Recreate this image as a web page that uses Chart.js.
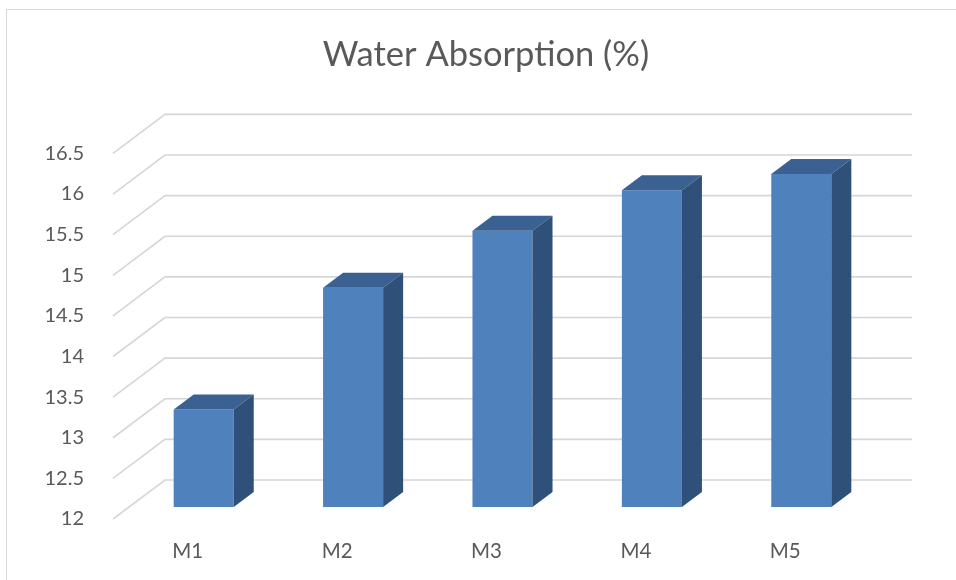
<!DOCTYPE html>
<html>
<head>
<meta charset="utf-8">
<script src="https://cdn.jsdelivr.net/npm/chart.js@4.4.1/dist/chart.umd.min.js"></script>
<style>
  html, body { margin: 0; padding: 0; background: #ffffff; }
  #wrap { position: relative; width: 956px; height: 580px; overflow: hidden; }
  #frame { position: absolute; left: 6px; top: 9px; width: 1200px; height: 900px;
           border-left: 1.5px solid #d9d9d9; border-top: 1.5px solid #d9d9d9; box-sizing: border-box; }
  canvas { position: absolute; left: 0; top: 0; }
</style>
</head>
<body>
<div id="wrap">
  <div id="frame"></div>
  <canvas id="c" width="956" height="580"></canvas>
</div>
<script>
// ---- data ----
const chartTitle = 'Water Absorption (%)';
const categories = ['M1', 'M2', 'M3', 'M4', 'M5'];
const waterAbsorption = [13.2, 14.7, 15.4, 15.9, 16.1];
const yTickValues = [12, 12.5, 13, 13.5, 14, 14.5, 15, 15.5, 16, 16.5];

// ---- 3D styling (pixel offsets of the perspective) ----
const WALL_DX = 52, WALL_DY = -39;   // front plane -> back wall
const BAR_DX = 16, BAR_DY = -12;     // front plane -> bar front face
const SIDE_DX = 20, SIDE_DY = -15;   // bar depth
const GRID_COLOR = '#d6d6d6';
const FRONT_COLOR = '#4f81bd';
const TOP_COLOR = '#3a6191';
const SIDE_COLOR = '#2e5079';
const TEXT_COLOR = '#595959';

const threeD = {
  id: 'threeD',
  beforeDatasetsDraw(chart) {
    const { ctx, chartArea, scales: { y } } = chart;
    ctx.save();
    ctx.strokeStyle = GRID_COLOR;
    ctx.lineWidth = 1.6;
    y.ticks.forEach(t => {
      const py = y.getPixelForValue(t.value);
      ctx.beginPath();
      ctx.moveTo(chartArea.left, py);
      ctx.lineTo(chartArea.left + WALL_DX, py + WALL_DY);
      ctx.lineTo(chartArea.right + WALL_DX, py + WALL_DY);
      ctx.stroke();
    });
    ctx.restore();
    ctx.save();
    ctx.translate(BAR_DX, BAR_DY);
  },
  afterDatasetsDraw(chart) {
    const ctx = chart.ctx;
    chart.getDatasetMeta(0).data.forEach(bar => {
      const { x, y, base, width } = bar.getProps(['x', 'y', 'base', 'width'], true);
      const l = x - width / 2, r = x + width / 2;
      ctx.fillStyle = TOP_COLOR;
      ctx.beginPath();
      ctx.moveTo(l, y);
      ctx.lineTo(l + SIDE_DX, y + SIDE_DY);
      ctx.lineTo(r + SIDE_DX, y + SIDE_DY);
      ctx.lineTo(r, y);
      ctx.closePath();
      ctx.fill();
      ctx.fillStyle = SIDE_COLOR;
      ctx.beginPath();
      ctx.moveTo(r, y);
      ctx.lineTo(r + SIDE_DX, y + SIDE_DY);
      ctx.lineTo(r + SIDE_DX, base + SIDE_DY);
      ctx.lineTo(r, base);
      ctx.closePath();
      ctx.fill();
    });
    ctx.restore();
  }
};

Chart.defaults.font.family = 'Lato, "Open Sans", sans-serif';
Chart.defaults.color = TEXT_COLOR;

new Chart(document.getElementById('c'), {
  type: 'bar',
  data: {
    labels: categories,
    datasets: [{
      label: chartTitle,
      data: waterAbsorption,
      base: yTickValues[0],
      backgroundColor: FRONT_COLOR,
      borderWidth: 0,
      categoryPercentage: 1.0,
      barPercentage: 0.402,
      clip: false
    }]
  },
  options: {
    responsive: false,
    animation: false,
    events: [],
    layout: { padding: { left: 16, right: 0, top: 0, bottom: 0 } },
    plugins: {
      legend: { display: false },
      tooltip: { enabled: false },
      title: {
        display: true,
        text: chartTitle,
        color: TEXT_COLOR,
        font: { size: 34.5, weight: 'normal' },
        padding: { top: 34.6, bottom: 77.4 }
      }
    },
    scales: {
      x: {
        grid: { display: false },
        border: { display: false },
        ticks: { font: { size: 20.5 }, padding: 12, color: TEXT_COLOR },
        afterFit(scale) { scale.height = 61; }
      },
      y: {
        min: yTickValues[0],
        max: yTickValues[yTickValues.length - 1],
        grid: { display: false },
        border: { display: false },
        afterBuildTicks(scale) { scale.ticks = yTickValues.map(v => ({ value: v })); },
        ticks: {
          font: { size: 20 },
          padding: 21,
          color: TEXT_COLOR,
          callback: v => String(v)
        },
        afterFit(scale) { scale.width = 97; }
      },
      yRight: {
        position: 'right',
        display: true,
        grid: { display: false },
        border: { display: false },
        ticks: { display: false },
        afterFit(scale) { scale.width = 96; }
      }
    }
  },
  plugins: [threeD]
});
</script>
</body>
</html>
